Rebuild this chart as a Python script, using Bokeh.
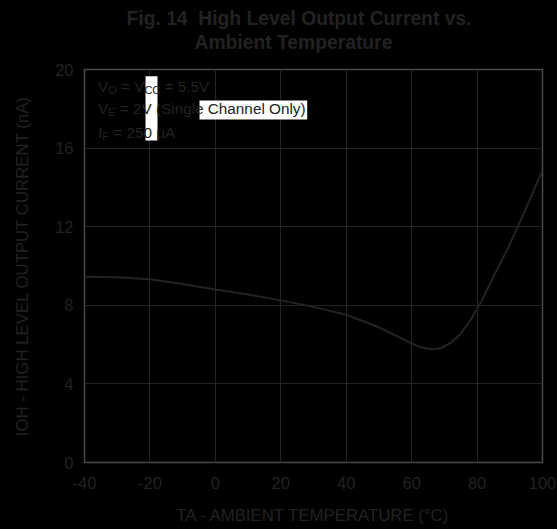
from bokeh.plotting import figure
from bokeh.models import Range1d, FixedTicker, Label, BoxAnnotation, Title
from bokeh.embed import file_html
from bokeh.resources import INLINE

# ---- data ----
temps = [-40, -30, -20, -10, 0, 10, 20, 30, 40, 50, 55, 60, 63, 66, 69, 72, 75, 78, 81, 85, 90, 95, 100]
ioh = [9.45, 9.43, 9.33, 9.08, 8.80, 8.55, 8.25, 7.92, 7.52, 6.88, 6.47, 6.06, 5.86, 5.76, 5.82, 6.10,
       6.55, 7.25, 8.10, 9.45, 11.10, 12.95, 14.88]
x_ticks = [-40, -20, 0, 20, 40, 60, 80, 100]
y_ticks = [0, 4, 8, 12, 16, 20]
title_lines = ["Fig. 14\u00a0 High Level Output Current vs.", "Ambient Temperature"]

TEXT = "#222222"
FONT = "Liberation Sans"

# pixel -> data helpers (frame: x 84..542, y 69..462)
FL, FR, FT, FB = 84.0, 542.0, 69.0, 462.0


def dx(px):
    return -40 + (px - FL) * 140.0 / (FR - FL)


def dy(py):
    return (FB - py) * 20.0 / (FB - FT)


# Arial / Liberation Sans advance widths (1/1000 em)
W = {' ': 278, '(': 333, ')': 333, '.': 278, '-': 333, '=': 584, '\u00b0': 400, '\u00b5': 577,
     '0': 556, '1': 556, '2': 556, '3': 556, '4': 556, '5': 556, '6': 556, '7': 556, '8': 556, '9': 556,
     'A': 667, 'C': 722, 'E': 667, 'F': 611, 'I': 278, 'O': 778, 'S': 667, 'V': 667,
     'a': 556, 'e': 556, 'g': 556, 'h': 556, 'i': 222, 'l': 222, 'n': 556, 'y': 500}


def tw(s, size):
    return sum(W.get(c, 556) for c in s) * size / 1000.0


p = figure(width=557, height=529, output_backend="svg", toolbar_location=None,
           x_range=Range1d(-40, 100), y_range=Range1d(0, 20),
           min_border_left=84, min_border_right=15, min_border_top=69, min_border_bottom=67,
           background_fill_color="black", border_fill_color="black")

# outer title line (first line), placed above the second line
p.title = Title(text=title_lines[0], align="left", offset=42, vertical_align="bottom",
                text_font=FONT, text_font_size="19.3px", text_font_style="bold",
                text_color=TEXT, standoff=-22)
# inner title line (second line), nearest the frame
p.add_layout(Title(text=title_lines[1], align="left", offset=110, vertical_align="top",
                   text_font=FONT, text_font_size="19.3px", text_font_style="bold",
                   text_color=TEXT, standoff=29.4), "above")

p.outline_line_color = "#4a4a4a"
p.outline_line_width = 1.5

for ax, ticks in ((p.xaxis, x_ticks), (p.yaxis, y_ticks)):
    ax.ticker = FixedTicker(ticks=ticks)
    ax.major_label_overrides = {t: str(t) for t in ticks}
    ax.axis_line_color = None
    ax.major_tick_line_color = None
    ax.minor_tick_line_color = None
    ax.major_tick_out = 0
    ax.major_tick_in = 0
    ax.major_label_text_color = TEXT
    ax.major_label_text_font = FONT
    ax.major_label_text_font_size = "16.5px"
    ax.axis_label_text_color = TEXT
    ax.axis_label_text_font = FONT
    ax.axis_label_text_font_size = "16.8px"
    ax.axis_label_text_font_style = "normal"
p.xaxis.major_label_standoff = 14
p.yaxis.major_label_standoff = 11
p.xaxis.axis_label = "TA - AMBIENT TEMPERATURE (\u00b0C)"
p.yaxis.axis_label = "IOH - HIGH LEVEL OUTPUT CURRENT (nA)"
p.xaxis.axis_label_standoff = 14
p.yaxis.axis_label_standoff = 20

p.xgrid.ticker = FixedTicker(ticks=x_ticks)
p.ygrid.ticker = FixedTicker(ticks=y_ticks)
p.grid.grid_line_color = "#242424"
p.grid.grid_line_width = 1

p.line(temps, ioh, line_color="#272222", line_width=2)

# white highlight boxes seen in the reference
p.add_layout(BoxAnnotation(left=dx(145), right=dx(157), bottom=dy(140), top=dy(75.7),
                           fill_color="white", fill_alpha=1.0, line_color=None))
p.add_layout(BoxAnnotation(left=dx(199), right=dx(306.7), bottom=dy(119), top=dy(100),
                           fill_color="white", fill_alpha=1.0, line_color=None))


def compose(parts, x0, base, size, sub_size, shift, color=TEXT):
    """parts: list of (text, is_sub); x0/base in pixels."""
    cur = x0
    for text, sub in parts:
        fs = sub_size if sub else size
        lead = len(text) - len(text.lstrip(' '))
        cur += tw(' ' * lead, fs)
        t = text.lstrip(' ')
        p.add_layout(Label(x=dx(cur), y=dy(base + (shift if sub else 0)), text=t,
                           text_font=FONT, text_font_size=f"{fs}px", text_color=color,
                           text_align="left", text_baseline="alphabetic"))
        cur += tw(t, fs)


# annotation block
compose([("V", False), ("O", True), (" = V", False), ("CC", True), (" = 5.5V", False)],
        97.5, 85.7, 15.3, 11, 3.5)
compose([("V", False), ("E", True), (" = 2V (Single Channel Only)", False)],
        97.5, 108.0, 15.3, 11, 3.5)
compose([("I", False), ("F", True), (" = 250 \u00b5A", False)],
        97.5, 131.5, 15.3, 11, 3.5)

html = file_html(p, INLINE, title="Fig. 14")
html = html.replace("</head>", "<style>body{background:#000;}</style></head>", 1)
open("out.html", "w").write(html)
